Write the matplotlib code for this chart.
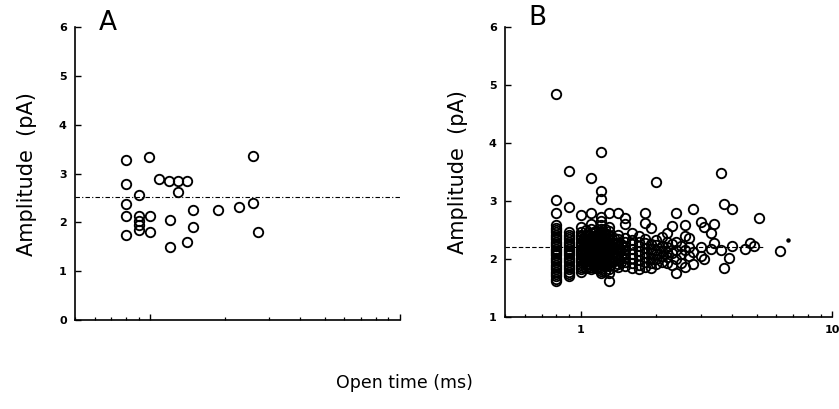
import numpy as np
import matplotlib
matplotlib.use('Agg')
from matplotlib import pyplot as plt
from matplotlib.ticker import LogLocator, NullFormatter

# Panel A: open time (ms) and amplitude (pA) of single events
a_time = [0.80, 0.80, 0.80, 0.80, 0.80,
          0.90, 0.90, 0.90, 0.90, 0.90,
          0.99, 1.00, 1.00, 1.09, 1.19, 1.29, 1.40, 1.29,
          1.20, 1.20, 1.49, 1.49, 1.40, 1.87, 2.28, 2.59, 2.59, 2.70]
a_amp = [3.27, 2.78, 2.37, 2.14, 1.75,
         2.56, 2.14, 2.03, 1.94, 1.85,
         3.33, 2.14, 1.80, 2.89, 2.85, 2.85, 2.85, 2.62,
         2.04, 1.49, 2.25, 1.91, 1.60, 2.25, 2.32, 3.35, 2.40, 1.80]
a_mean = 2.53

# Panel B: open times are binned, amplitudes listed per bin
b_time = [0.8, 0.9, 1.0, 1.03, 1.05, 1.08, 1.1, 1.13, 1.15, 1.18, 1.2,
          1.23, 1.25, 1.28, 1.3, 1.33, 1.35, 1.4, 1.45,
          1.5, 1.6, 1.7, 1.8, 1.9, 2.0, 2.1, 2.2, 2.3, 2.4, 2.5, 2.6, 2.7,
          2.8, 3.0, 3.1, 3.3, 3.4, 3.6, 3.7, 3.9, 4.0, 4.5, 4.7, 4.9, 5.1,
          6.2]
b_amp = [
    [1.62, 1.66, 1.70, 1.74, 1.78, 1.82, 1.86, 1.90, 1.94, 1.98, 2.02, 2.06,
     2.10, 2.14, 2.18, 2.22, 2.26, 2.30, 2.34, 2.38, 2.42, 2.46, 2.50, 2.54,
     2.58, 2.80, 3.01, 4.84],
    [1.70, 1.74, 1.78, 1.82, 1.86, 1.90, 1.94, 1.98, 2.02, 2.06, 2.10, 2.14,
     2.18, 2.22, 2.26, 2.30, 2.34, 2.38, 2.42, 2.46, 2.90, 3.51],
    [1.78, 1.82, 1.86, 1.90, 1.94, 1.98, 2.02, 2.06, 2.10, 2.14, 2.18, 2.22,
     2.26, 2.30, 2.34, 2.38, 2.42, 2.47, 2.55, 2.76],
    [1.95, 2.02, 2.09, 2.16, 2.23, 2.30, 2.37],
    [1.85, 1.92, 1.99, 2.06, 2.13, 2.20, 2.27, 2.34, 2.41, 2.50],
    [1.92, 1.99, 2.06, 2.13, 2.20, 2.27, 2.34, 2.41],
    [1.82, 1.86, 1.90, 1.94, 1.98, 2.02, 2.06, 2.10, 2.14, 2.18, 2.22, 2.26,
     2.30, 2.34, 2.38, 2.45, 2.52, 2.60, 2.79, 3.39],
    [1.90, 1.97, 2.04, 2.11, 2.18, 2.25, 2.32, 2.39, 2.46],
    [1.84, 1.91, 1.98, 2.05, 2.12, 2.19, 2.26, 2.33, 2.40, 2.48],
    [1.88, 1.95, 2.02, 2.09, 2.16, 2.23, 2.30, 2.37, 2.44],
    [1.75, 1.79, 1.83, 1.87, 1.91, 1.95, 1.99, 2.03, 2.07, 2.11, 2.15, 2.19,
     2.23, 2.27, 2.31, 2.35, 2.39, 2.43, 2.47, 2.52, 2.58, 2.65, 2.72, 3.03,
     3.18, 3.85],
    [1.90, 1.97, 2.04, 2.11, 2.18, 2.25, 2.32, 2.39, 2.46],
    [1.80, 1.88, 1.96, 2.04, 2.12, 2.20, 2.28, 2.36, 2.44, 2.52],
    [1.92, 1.99, 2.06, 2.13, 2.20, 2.27, 2.34, 2.41],
    [1.62, 1.76, 1.82, 1.88, 1.94, 2.00, 2.06, 2.12, 2.18, 2.24, 2.30, 2.36,
     2.42, 2.48, 2.55, 2.79],
    [1.95, 2.03, 2.11, 2.19, 2.27, 2.35],
    [1.88, 1.96, 2.04, 2.12, 2.20, 2.28, 2.36],
    [1.86, 1.92, 1.98, 2.04, 2.10, 2.16, 2.22, 2.28, 2.34, 2.42, 2.79],
    [1.95, 2.05, 2.15, 2.25],
    [1.88, 1.95, 2.02, 2.09, 2.16, 2.23, 2.30, 2.37, 2.60, 2.70],
    [1.85, 1.93, 2.01, 2.09, 2.17, 2.25, 2.33, 2.45],
    [1.82, 1.90, 1.98, 2.06, 2.14, 2.22, 2.30, 2.40],
    [1.86, 1.95, 2.03, 2.11, 2.19, 2.27, 2.35, 2.62, 2.79],
    [1.84, 1.93, 2.02, 2.10, 2.18, 2.26, 2.53],
    [1.92, 2.00, 2.08, 2.16, 2.24, 2.32, 3.33],
    [1.95, 2.05, 2.14, 2.23, 2.38],
    [1.93, 2.03, 2.12, 2.20, 2.30, 2.45],
    [1.90, 2.10, 2.25, 2.57],
    [1.76, 2.00, 2.15, 2.30, 2.79],
    [1.93, 2.08, 2.22],
    [1.87, 2.15, 2.40, 2.59],
    [2.05, 2.20, 2.36],
    [1.92, 2.12, 2.87],
    [2.05, 2.20, 2.64],
    [2.00, 2.56],
    [2.18, 2.44],
    [2.28, 2.61],
    [2.15, 3.49],
    [1.84, 2.94],
    [2.01],
    [2.22, 2.87],
    [2.17],
    [2.28],
    [2.22],
    [2.71],
    [2.14],
]
b_stray = (6.65, 2.32)
b_mean = 2.21
b_mean_end = 5.3

fig = plt.figure(figsize=(8.39, 4.09), dpi=100)

circle = dict(marker='o', linestyle='none', mfc='none', mec='black',
              ms=6.8, mew=1.35)


def style_axes(ax):
    for s in ['top', 'right']:
        ax.spines[s].set_visible(False)
    for s in ['left', 'bottom']:
        ax.spines[s].set_linewidth(1.2)
    ax.set_xscale('log')
    ax.set_xlim(0.5, 10)
    ax.xaxis.set_minor_locator(LogLocator(base=10, subs=np.arange(2, 10)))
    ax.xaxis.set_minor_formatter(NullFormatter())
    ax.tick_params(which='major', direction='in', length=4, width=1,
                   labelsize=8, pad=6)
    ax.tick_params(which='minor', direction='in', length=2.5, width=0.9)
    ax.set_ylabel('Amplitude  (pA)', fontsize=15, labelpad=16)


# Panel A
ax_a = fig.add_axes([0.0894, 0.2176, 0.387, 0.716])
style_axes(ax_a)
ax_a.plot(a_time, a_amp, **circle)
ax_a.plot([0.5, 10], [a_mean, a_mean], color='black', lw=0.8,
          linestyle=(0, (4, 2, 1, 2)))
ax_a.set_ylim(0, 6)
ax_a.set_yticks(range(0, 7))
ax_a.set_yticklabels([str(v) for v in range(0, 7)], fontweight='bold')
ax_a.set_xticks([1, 10])
ax_a.set_xticklabels([])
ax_a.text(0.1, 1.015, 'A', transform=ax_a.transAxes, fontsize=19,
          ha='center', va='center')

# Panel B
bx = []
by = []
for t, amps in zip(b_time, b_amp):
    bx.extend([t] * len(amps))
    by.extend(amps)

ax_b = fig.add_axes([0.602, 0.225, 0.390, 0.709])
style_axes(ax_b)
ax_b.plot(bx, by, **circle)
ax_b.plot([b_stray[0]], [b_stray[1]], marker='o', color='black', ms=2.2,
          linestyle='none')
ax_b.plot([0.5, b_mean_end], [b_mean, b_mean], color='black', lw=0.8,
          linestyle=(0, (4, 2)))
ax_b.set_ylim(1, 6)
ax_b.set_yticks(range(1, 7))
ax_b.set_yticklabels([str(v) for v in range(1, 7)], fontweight='bold')
ax_b.set_xticks([1, 10])
ax_b.set_xticklabels(['1', '10'], fontweight='bold')
ax_b.set_ylabel('Amplitude  (pA)', fontsize=15, labelpad=15)
ax_b.text(0.1, 1.03, 'B', transform=ax_b.transAxes, fontsize=19,
          ha='center', va='center')

fig.text(0.482, 0.063, 'Open time (ms)', fontsize=12.5, ha='center',
         va='center')

plt.savefig('out.png', dpi=100)
